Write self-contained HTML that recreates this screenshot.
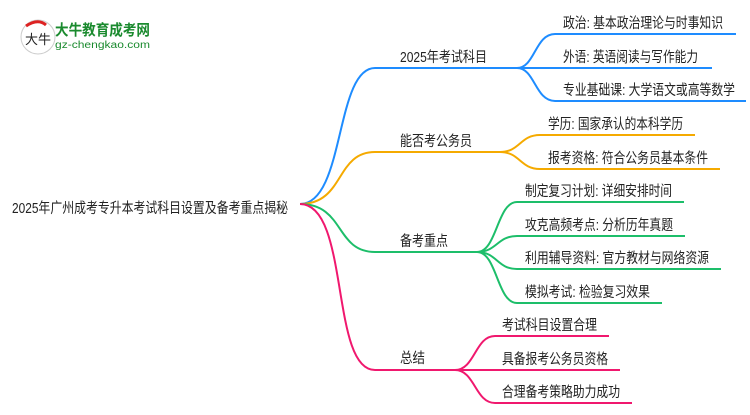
<!DOCTYPE html>
<html><head><meta charset="utf-8"><style>
body{margin:0;background:#fff;width:750px;height:410px;overflow:hidden}
svg text{font-family:"Liberation Sans","Noto Sans CJK SC",sans-serif;font-size:14.5px;fill:#222}
</style></head><body>
<svg width="750" height="410" viewBox="0 0 750 410" xmlns="http://www.w3.org/2000/svg">
<g fill="none" stroke-width="2">
<g stroke="#1E8CFF">
<path d="M300,204 C345,204 335,68 375,68 L517,68"/>
<path d="M517,68 C535,68 535,34 555,34 L736,34"/>
<path d="M517,68 L712,68"/>
<path d="M517,68 C535,68 535,101 555,101 L746,101"/>
</g>
<g stroke="#F5AA00">
<path d="M300,204 C345,204 335,152 375,152 L500,152"/>
<path d="M500,152 C520,152 520,135 540,135 L695,135"/>
<path d="M500,152 C520,152 520,169 540,169 L720,169"/>
</g>
<g stroke="#1DBE6A">
<path d="M300,204 C345,204 335,252 375,252 L477,252"/>
<path d="M477,252 C497,252 497,202 517,202 L684,202"/>
<path d="M477,252 C497,252 497,236 517,236 L685,236"/>
<path d="M477,252 C497,252 497,269 517,269 L721,269"/>
<path d="M477,252 C497,252 497,303 517,303 L662,303"/>
</g>
<g stroke="#F0186E">
<path d="M300,204 C350,204 330,370 375,370 L455,370"/>
<path d="M455,370 C475,370 475,336 495,336 L609,336"/>
<path d="M455,370 L620,370"/>
<path d="M455,370 C475,370 475,403 495,403 L632,403"/>
</g>
</g>
<text x="12" y="213" textLength="276" lengthAdjust="spacingAndGlyphs">2025年广州成考专升本考试科目设置及备考重点揭秘</text>
<text x="400" y="62" textLength="87" lengthAdjust="spacingAndGlyphs">2025年考试科目</text>
<text x="563" y="28" textLength="160" lengthAdjust="spacingAndGlyphs">政治: 基本政治理论与时事知识</text>
<text x="563" y="62" textLength="135" lengthAdjust="spacingAndGlyphs">外语: 英语阅读与写作能力</text>
<text x="563" y="95" textLength="172" lengthAdjust="spacingAndGlyphs">专业基础课: 大学语文或高等数学</text>
<text x="400" y="146" textLength="72" lengthAdjust="spacingAndGlyphs">能否考公务员</text>
<text x="548" y="129" textLength="135" lengthAdjust="spacingAndGlyphs">学历: 国家承认的本科学历</text>
<text x="548" y="163" textLength="160" lengthAdjust="spacingAndGlyphs">报考资格: 符合公务员基本条件</text>
<text x="400" y="246" textLength="48" lengthAdjust="spacingAndGlyphs">备考重点</text>
<text x="525" y="196" textLength="147" lengthAdjust="spacingAndGlyphs">制定复习计划: 详细安排时间</text>
<text x="525" y="230" textLength="148" lengthAdjust="spacingAndGlyphs">攻克高频考点: 分析历年真题</text>
<text x="525" y="263" textLength="184" lengthAdjust="spacingAndGlyphs">利用辅导资料: 官方教材与网络资源</text>
<text x="525" y="297" textLength="125" lengthAdjust="spacingAndGlyphs">模拟考试: 检验复习效果</text>
<text x="400" y="363" textLength="25" lengthAdjust="spacingAndGlyphs">总结</text>
<text x="502" y="330" textLength="95" lengthAdjust="spacingAndGlyphs">考试科目设置合理</text>
<text x="502" y="364" textLength="106" lengthAdjust="spacingAndGlyphs">具备报考公务员资格</text>
<text x="502" y="397" textLength="118" lengthAdjust="spacingAndGlyphs">合理备考策略助力成功</text>
<circle cx="38" cy="37" r="17" fill="#fff" stroke="#ccc"/>
<path d="M26,26 Q38,18 46,25" stroke="#d22" stroke-width="3" fill="none"/>
<text x="25" y="44" style="font-size:13px">大牛</text>
<text x="55" y="35" textLength="95" lengthAdjust="spacingAndGlyphs" style="font-size:15px;font-weight:bold;fill:#1a8a2e">大牛教育成考网</text>
<text x="55" y="48" textLength="95" lengthAdjust="spacingAndGlyphs" style="font-size:10px;fill:#1a8a2e">gz-chengkao.com</text>
</svg>
</body></html>
